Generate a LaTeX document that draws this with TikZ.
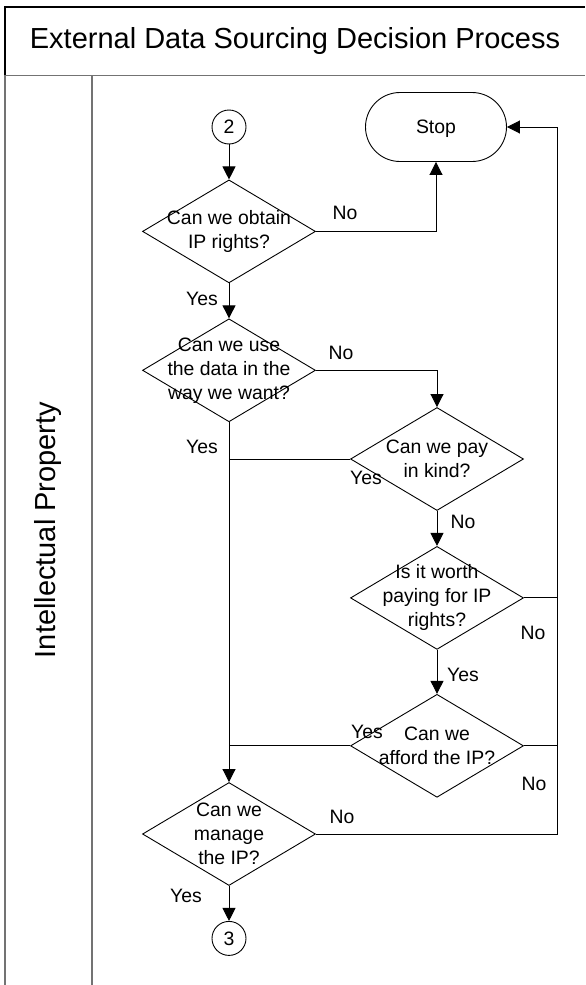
\documentclass[tikz,border=0pt]{standalone}
\usepackage{fontspec}
\setmainfont{Liberation Sans}
\usetikzlibrary{arrows.meta,positioning,shapes.geometric,shapes.misc}

\begin{document}
\begin{tikzpicture} %
		[
			x=1pt, y=-1pt,
			every text node part/.style={align=center}, % for the two and three line questions
			qtext/.style={font={\fontsize{19.4}{24}\selectfont}, inner sep=0pt},
			headtext/.style={font={\fontsize{29}{35}\selectfont}},
			decision/.style={
				draw,
				diamond,
				minimum width=173pt,
				minimum height=103pt,
				inner sep=0pt,
				line width=0.9pt,
				label={[qtext]center:#1},
			},
			connector/.style={draw, circle, minimum size=34pt, inner sep=0pt, line width=0.9pt, qtext},
			terminal/.style={draw, rounded rectangle, minimum width=141pt, minimum height=69pt, line width=0.9pt, text depth=0pt, qtext},
			arch/.style={-{Triangle[length=13pt,width=13pt]}},
			flow/.style={line width=0.9pt},
			lane/.style={line width=1.4pt, black!55},
			answer/.style={qtext, at start, anchor=center},
		]
		\useasboundingbox (0,0) rectangle (586,985);
		% swimlane frame
		\node[headtext, minimum width=580pt, minimum height=68pt] 
		(title) at (295,41) {External Data Sourcing Decision Process};
		\draw[line width=1.8pt] (title.south west) -- (title.north west) -- (title.north east);
		\draw[lane] (title.south west) -- (title.south east);
		\draw[lane] (5,75) -- (5,985);
		\draw[lane] (92,75) -- (92,985);
		\node[headtext, rotate=90] 
		(lanename) at (48,530) {Intellectual Property};
		% flow nodes
		\node[connector] 
		(c2) at (229,127) {2};
		\node[terminal] 
		(stop) at (436,127) {Stop};
		\node[decision={Can we obtain\\IP rights?}, below=35pt of c2] 
		(d1) {};
		\node[decision={Can we use\\the data in the\\way we want?}, below=35pt of d1] 
		(d2) {};
		\node[decision={Can we pay\\in kind?}] 
		(d3) at (437,459) {};
		\node[decision={Is it worth\\paying for IP\\rights?}, below=35pt of d3] 
		(d4) {};
		\node[decision={Can we\\afford the IP?}, below=44pt of d4] 
		(d5) {};
		\node[decision={Can we\\manage\\the IP?}] 
		(d6) at (229,834) {};
		\node[connector, below=35pt of d6] 
		(c3) {3};
		\coordinate (bus) at (557,834);
		% connectors
		\draw[flow,arch] (c2) -- (d1);
		\draw[flow,arch] 
		(d1.east) 
		-| node[answer,xshift=29pt,yshift=18pt]{No} 
		(stop.south);
		\draw[flow,arch] 
		(d1) 
		-- node[answer,xshift=-27pt,yshift=-16pt]{Yes} 
		(d2);
		\draw[flow,arch] 
		(d2.east) 
		-| node[answer,xshift=25pt,yshift=17pt]{No} 
		(d3.north);
		\draw[flow,arch] 
		(d2) 
		-- node[answer,xshift=-27pt,yshift=-25pt]{Yes} 
		(d6);
		\draw[flow] 
		(d3.west) 
		-- node[answer,xshift=16pt,yshift=-19pt]{Yes} 
		(d3.west -| d2.south);
		\draw[flow,arch] 
		(d3) 
		-- node[answer,xshift=26pt,yshift=-11pt]{No} 
		(d4);
		\draw[flow,arch] 
		(d4) 
		-- node[answer,xshift=26pt,yshift=-25pt]{Yes} 
		(d5);
		\draw[flow] 
		(d4.east) 
		-- node[answer,xshift=9pt,yshift=-35pt]{No} 
		(d4.east -| bus);
		\draw[flow] 
		(d5.west) 
		-- node[answer,xshift=17pt,yshift=14pt]{Yes} 
		(d5.west -| d2.south);
		\draw[flow] 
		(d5.east) 
		-- node[answer,xshift=10pt,yshift=-38pt]{No} 
		(d5.east -| bus);
		\draw[flow,arch] 
		(d6.east) 
		-- node[answer,xshift=26pt,yshift=17pt]{No} 
		(bus) 
		|- (stop.east);
		\draw[flow,arch] 
		(d6) 
		-- node[answer,xshift=-43pt,yshift=-10pt]{Yes} 
		(c3);
	\end{tikzpicture}
\end{document}
